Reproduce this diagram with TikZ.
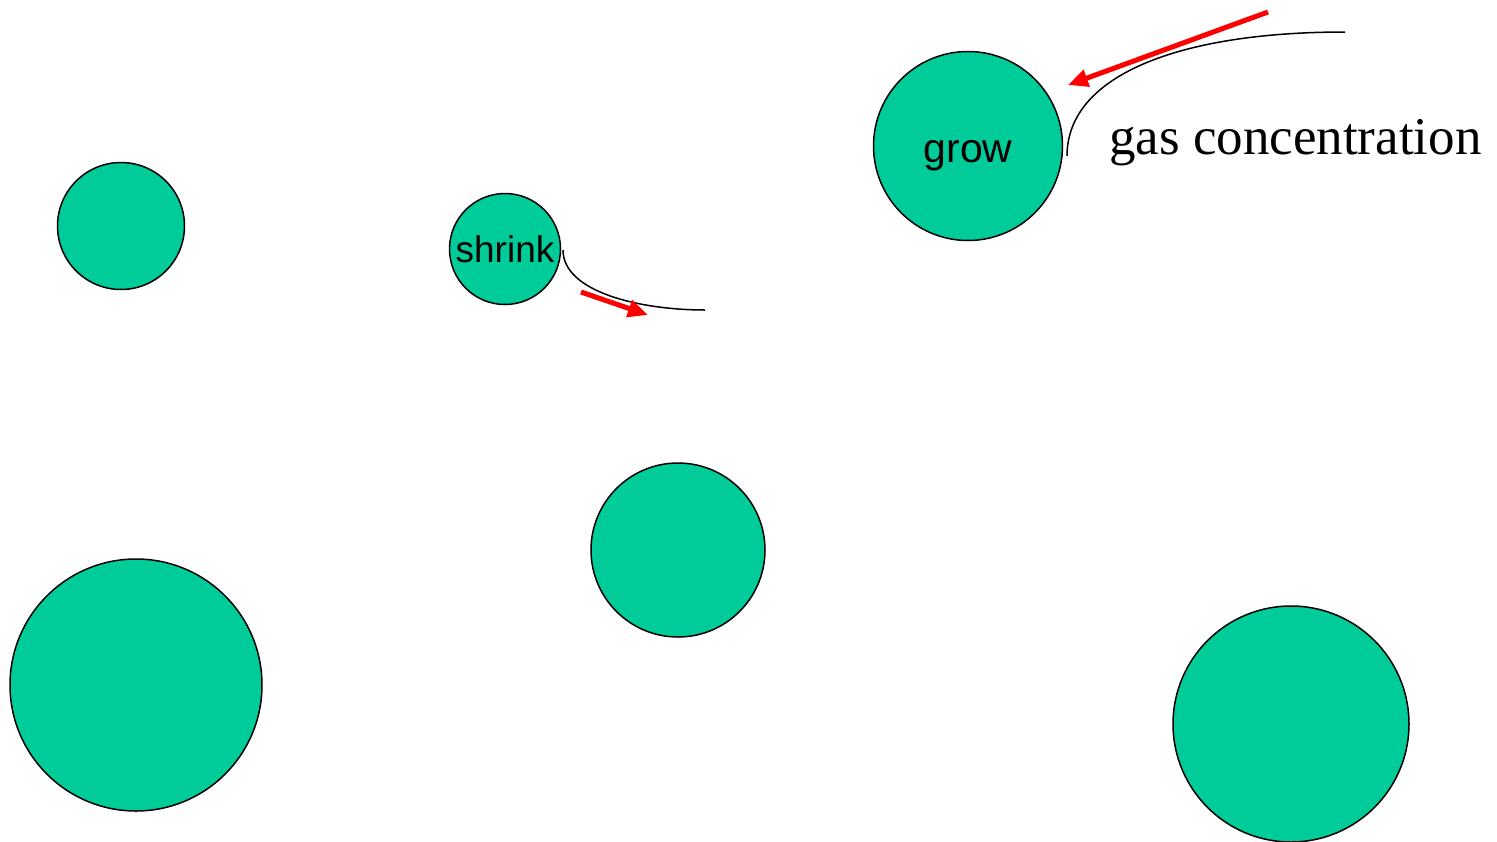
\documentclass[tikz,border=0pt]{standalone}
\usepackage{fontspec}
\setmainfont{Liberation Serif}
\setsansfont{Liberation Sans}
\usetikzlibrary{arrows.meta}
\definecolor{bubble}{HTML}{00CC99}
\definecolor{flux}{HTML}{FF0000}
\tikzset{
  bubblenode/.style={circle, draw=black, line width=1.5pt, fill=bubble, inner sep=0pt, minimum size=#1},
  bubbletext/.style={anchor=base, inner sep=0pt, font=\sffamily\fontsize{#1}{#1}\selectfont},
  fluxarrow/.style={draw=flux, line width=5pt, -{Triangle[length=20pt,width=17pt]}},
  profile/.style={draw=black, line width=1.5pt},
}
\begin{document}
\begin{tikzpicture}[x=1pt,y=-1pt]
  \useasboundingbox (0,0) rectangle (1497,841);
  % bubbles
  \node[bubblenode=127pt] (b1) at (121,226) {};
  \node[bubblenode=111pt] (shrink) at (505,249) {};
  \node[bubblenode=189pt] (grow) at (968,146) {};
  \node[bubblenode=174pt] (b4) at (678,550) {};
  \node[bubblenode=252pt] (b5) at (136,685) {};
  \node[bubblenode=236pt] (b6) at (1291,724) {};
  \node[bubbletext=37] (shrinktext) at (505,262) {shrink};
  \node[bubbletext=41] (growtext) at (968,162) {grow};
  % concentration profiles
  \coordinate (gs) at (1067,156);
  \coordinate (ge) at (1345,32);
  \draw[profile] (gs) .. controls (1067,75) and (1180,32) .. (ge);
  \coordinate (ss) at (563,250);
  \coordinate (se) at (705,310);
  \draw[profile] (ss) .. controls (563,292) and (640,310) .. (se);
  % gas flux arrows
  \coordinate (ga) at (1268,12);
  \coordinate (gb) at (1068,85);
  \draw[fluxarrow] (ga) -- (gb);
  \coordinate (sa) at (581,292);
  \coordinate (sb) at (648,315);
  \draw[fluxarrow] (sa) -- (sb);
  % label
  \node[anchor=base west, inner sep=0pt, font=\fontsize{53}{56}\selectfont] (gc) at (1109,154) {gas concentration};
\end{tikzpicture}
\end{document}
